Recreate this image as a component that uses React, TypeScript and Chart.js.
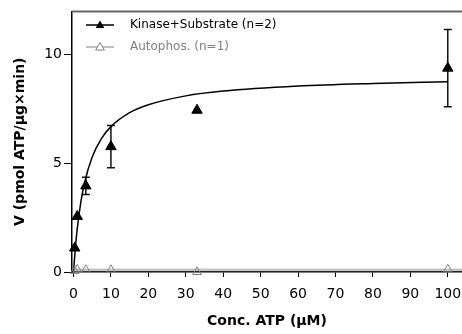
import React, { useEffect, useRef } from "react";
import { Chart, registerables } from "chart.js";

Chart.register(...registerables);

const FONT = "'DejaVu Sans', 'Liberation Sans', sans-serif";

// Measured data (Conc. ATP in µM)
const concATP = [0.33, 1, 3.3, 10, 33, 100];
const kinaseV = [1.1, 2.55, 3.95, 5.75, 7.42, 9.35];
const kinaseSD = [0, 0, 0.4, 0.97, 0, 1.77];
const autophosV = [0.05, 0.12, 0.1, 0.1, 0.0, 0.12];

// Fitted curves
const fitX = [0, 0.5, 1, 2, 3, 5, 7.5, 10, 15, 20, 30, 40, 60, 80, 100];
const kinaseFit = [0, 1.11, 1.98, 3.25, 4.13, 5.28, 6.13, 6.67, 7.31, 7.67, 8.08, 8.3, 8.53, 8.65, 8.73];
const autophosFitX = [0, 103.8];
const autophosFit = [0.09, 0.09];

const xTicks = [0, 10, 20, 30, 40, 50, 60, 70, 80, 90, 100];
const yTicks = [0, 5, 10];

const seriesLabels = ["Kinase+Substrate (n=2)", "Autophos. (n=1)"];
const seriesColors = ["#000000", "#808080"];

const errorBarPlugin = {
  id: "errorBars",
  beforeDatasetsDraw(chart: any) {
    const { ctx, scales } = chart;
    const xs = scales.x;
    const ys = scales.y;
    ctx.save();
    ctx.strokeStyle = "#111";
    ctx.lineWidth = 1.5;
    concATP.forEach((c, i) => {
      const sd = kinaseSD[i];
      if (!sd) return;
      const px = xs.getPixelForValue(c);
      const top = ys.getPixelForValue(kinaseV[i] + sd);
      const bot = ys.getPixelForValue(kinaseV[i] - sd);
      ctx.beginPath();
      ctx.moveTo(px, top);
      ctx.lineTo(px, bot);
      ctx.moveTo(px - 4, top);
      ctx.lineTo(px + 4, top);
      ctx.moveTo(px - 4, bot);
      ctx.lineTo(px + 4, bot);
      ctx.stroke();
    });
    ctx.restore();
  },
};

const framePlugin = {
  id: "frameTop",
  afterDraw(chart: any) {
    const { ctx, chartArea } = chart;
    ctx.save();
    ctx.strokeStyle = "#666";
    ctx.lineWidth = 2;
    ctx.beginPath();
    ctx.moveTo(chartArea.left, chartArea.top);
    ctx.lineTo(chart.width, chartArea.top);
    ctx.stroke();
    ctx.restore();
  },
};

function drawTriangle(ctx: CanvasRenderingContext2D, x: number, y: number, r: number) {
  ctx.beginPath();
  ctx.moveTo(x, y - r);
  ctx.lineTo(x + r * 0.866, y + r * 0.5);
  ctx.lineTo(x - r * 0.866, y + r * 0.5);
  ctx.closePath();
}

const legendPlugin = {
  id: "customLegend",
  afterDraw(chart: any) {
    const { ctx } = chart;
    ctx.save();
    ctx.font = `12px ${FONT}`;
    ctx.textBaseline = "middle";
    ctx.textAlign = "left";
    seriesLabels.forEach((label, i) => {
      const y = 25 + i * 22;
      const col = seriesColors[i];
      ctx.strokeStyle = col;
      ctx.lineWidth = i === 0 ? 1.5 : 1;
      ctx.beginPath();
      ctx.moveTo(86, y);
      ctx.lineTo(114, y);
      ctx.stroke();
      drawTriangle(ctx, 100, y + 0.5, 5);
      if (i === 0) {
        ctx.fillStyle = col;
        ctx.fill();
      } else {
        ctx.fillStyle = "#fff";
        ctx.fill();
        ctx.stroke();
      }
      ctx.fillStyle = col;
      ctx.fillText(label, 130, y);
    });
    ctx.restore();
  },
};

export default function App() {
  const ref = useRef<HTMLCanvasElement>(null);

  useEffect(() => {
    if (!ref.current) return;
    const chart = new Chart(ref.current, {
      type: "scatter",
      data: {
        datasets: [
          {
            label: seriesLabels[0],
            data: concATP.map((x, i) => ({ x, y: kinaseV[i] })),
            showLine: false,
            pointStyle: "triangle",
            pointRadius: 6,
            pointBackgroundColor: "#000",
            pointBorderColor: "#000",
            pointBorderWidth: 1,
            order: 0,
            clip: false as any,
          },
          {
            label: seriesLabels[1],
            data: concATP.map((x, i) => ({ x, y: autophosV[i] })),
            showLine: false,
            pointStyle: "triangle",
            pointRadius: 5,
            pointBackgroundColor: "rgba(255,255,255,0)",
            pointBorderColor: "#808080",
            pointBorderWidth: 1,
            order: 0,
            clip: false as any,
          },
          {
            label: "fit1",
            data: fitX.map((x, i) => ({ x, y: kinaseFit[i] })),
            showLine: true,
            pointRadius: 0,
            borderColor: "#000",
            borderWidth: 1.5,
            tension: 0.4,
            cubicInterpolationMode: "monotone",
            order: 1,
          },
          {
            label: "fit2",
            data: autophosFitX.map((x, i) => ({ x, y: autophosFit[i] })),
            showLine: true,
            pointRadius: 0,
            borderColor: "#888",
            borderWidth: 3,
            borderDash: [1, 1],
            order: 2,
            clip: false as any,
          },
        ],
      },
      options: {
        animation: false,
        responsive: false,
        layout: { autoPadding: false, padding: { top: 11.5, left: 0, right: 0, bottom: 0 } },
        plugins: {
          legend: { display: false },
          tooltip: { enabled: false },
        },
        scales: {
          x: {
            type: "linear",
            min: -0.4,
            max: 103.8,
            afterFit: (s: any) => {
              s.height = 62;
              s.paddingLeft = 0;
              s.paddingRight = 0;
            },
            afterBuildTicks: (s: any) => {
              s.ticks = xTicks.map((v) => ({ value: v }));
            },
            grid: {
              display: true,
              drawOnChartArea: false,
              drawTicks: true,
              tickLength: 5,
              color: "#000",
              lineWidth: 1,
            },
            border: { display: true, color: "#000", width: 1.5 },
            ticks: {
              color: "#000",
              font: { family: FONT, size: 14 },
              padding: 9,
              maxRotation: 0,
              autoSkip: false,
            },
            title: {
              display: true,
              text: "Conc. ATP (µM)",
              color: "#000",
              font: { family: FONT, size: 14, weight: "bold" },
              padding: { top: 0, bottom: 4 },
            },
          },
          y: {
            type: "linear",
            min: 0,
            max: 11.95,
            afterFit: (s: any) => {
              s.width = 72;
              s.paddingTop = 0;
              s.paddingBottom = 0;
            },
            afterBuildTicks: (s: any) => {
              s.ticks = yTicks.map((v) => ({ value: v }));
            },
            grid: {
              display: true,
              drawOnChartArea: false,
              drawTicks: true,
              tickLength: 8,
              color: "#000",
              lineWidth: 1,
            },
            border: { display: true, color: "#000", width: 1.5 },
            ticks: {
              color: "#000",
              font: { family: FONT, size: 14 },
              padding: 2,
            },
            title: {
              display: true,
              text: "V (pmol ATP/µg×min)",
              color: "#000",
              font: { family: FONT, size: 14, weight: "bold" },
              padding: { top: 12, bottom: 0 },
            },
          },
        },
      },
      plugins: [errorBarPlugin, framePlugin, legendPlugin],
    });
    return () => chart.destroy();
  }, []);

  return (
    <div style={{ position: "fixed", left: 0, top: 0, width: 462, height: 334, background: "#fff" }}>
      <canvas ref={ref} width={462} height={334} style={{ display: "block" }} />
    </div>
  );
}
